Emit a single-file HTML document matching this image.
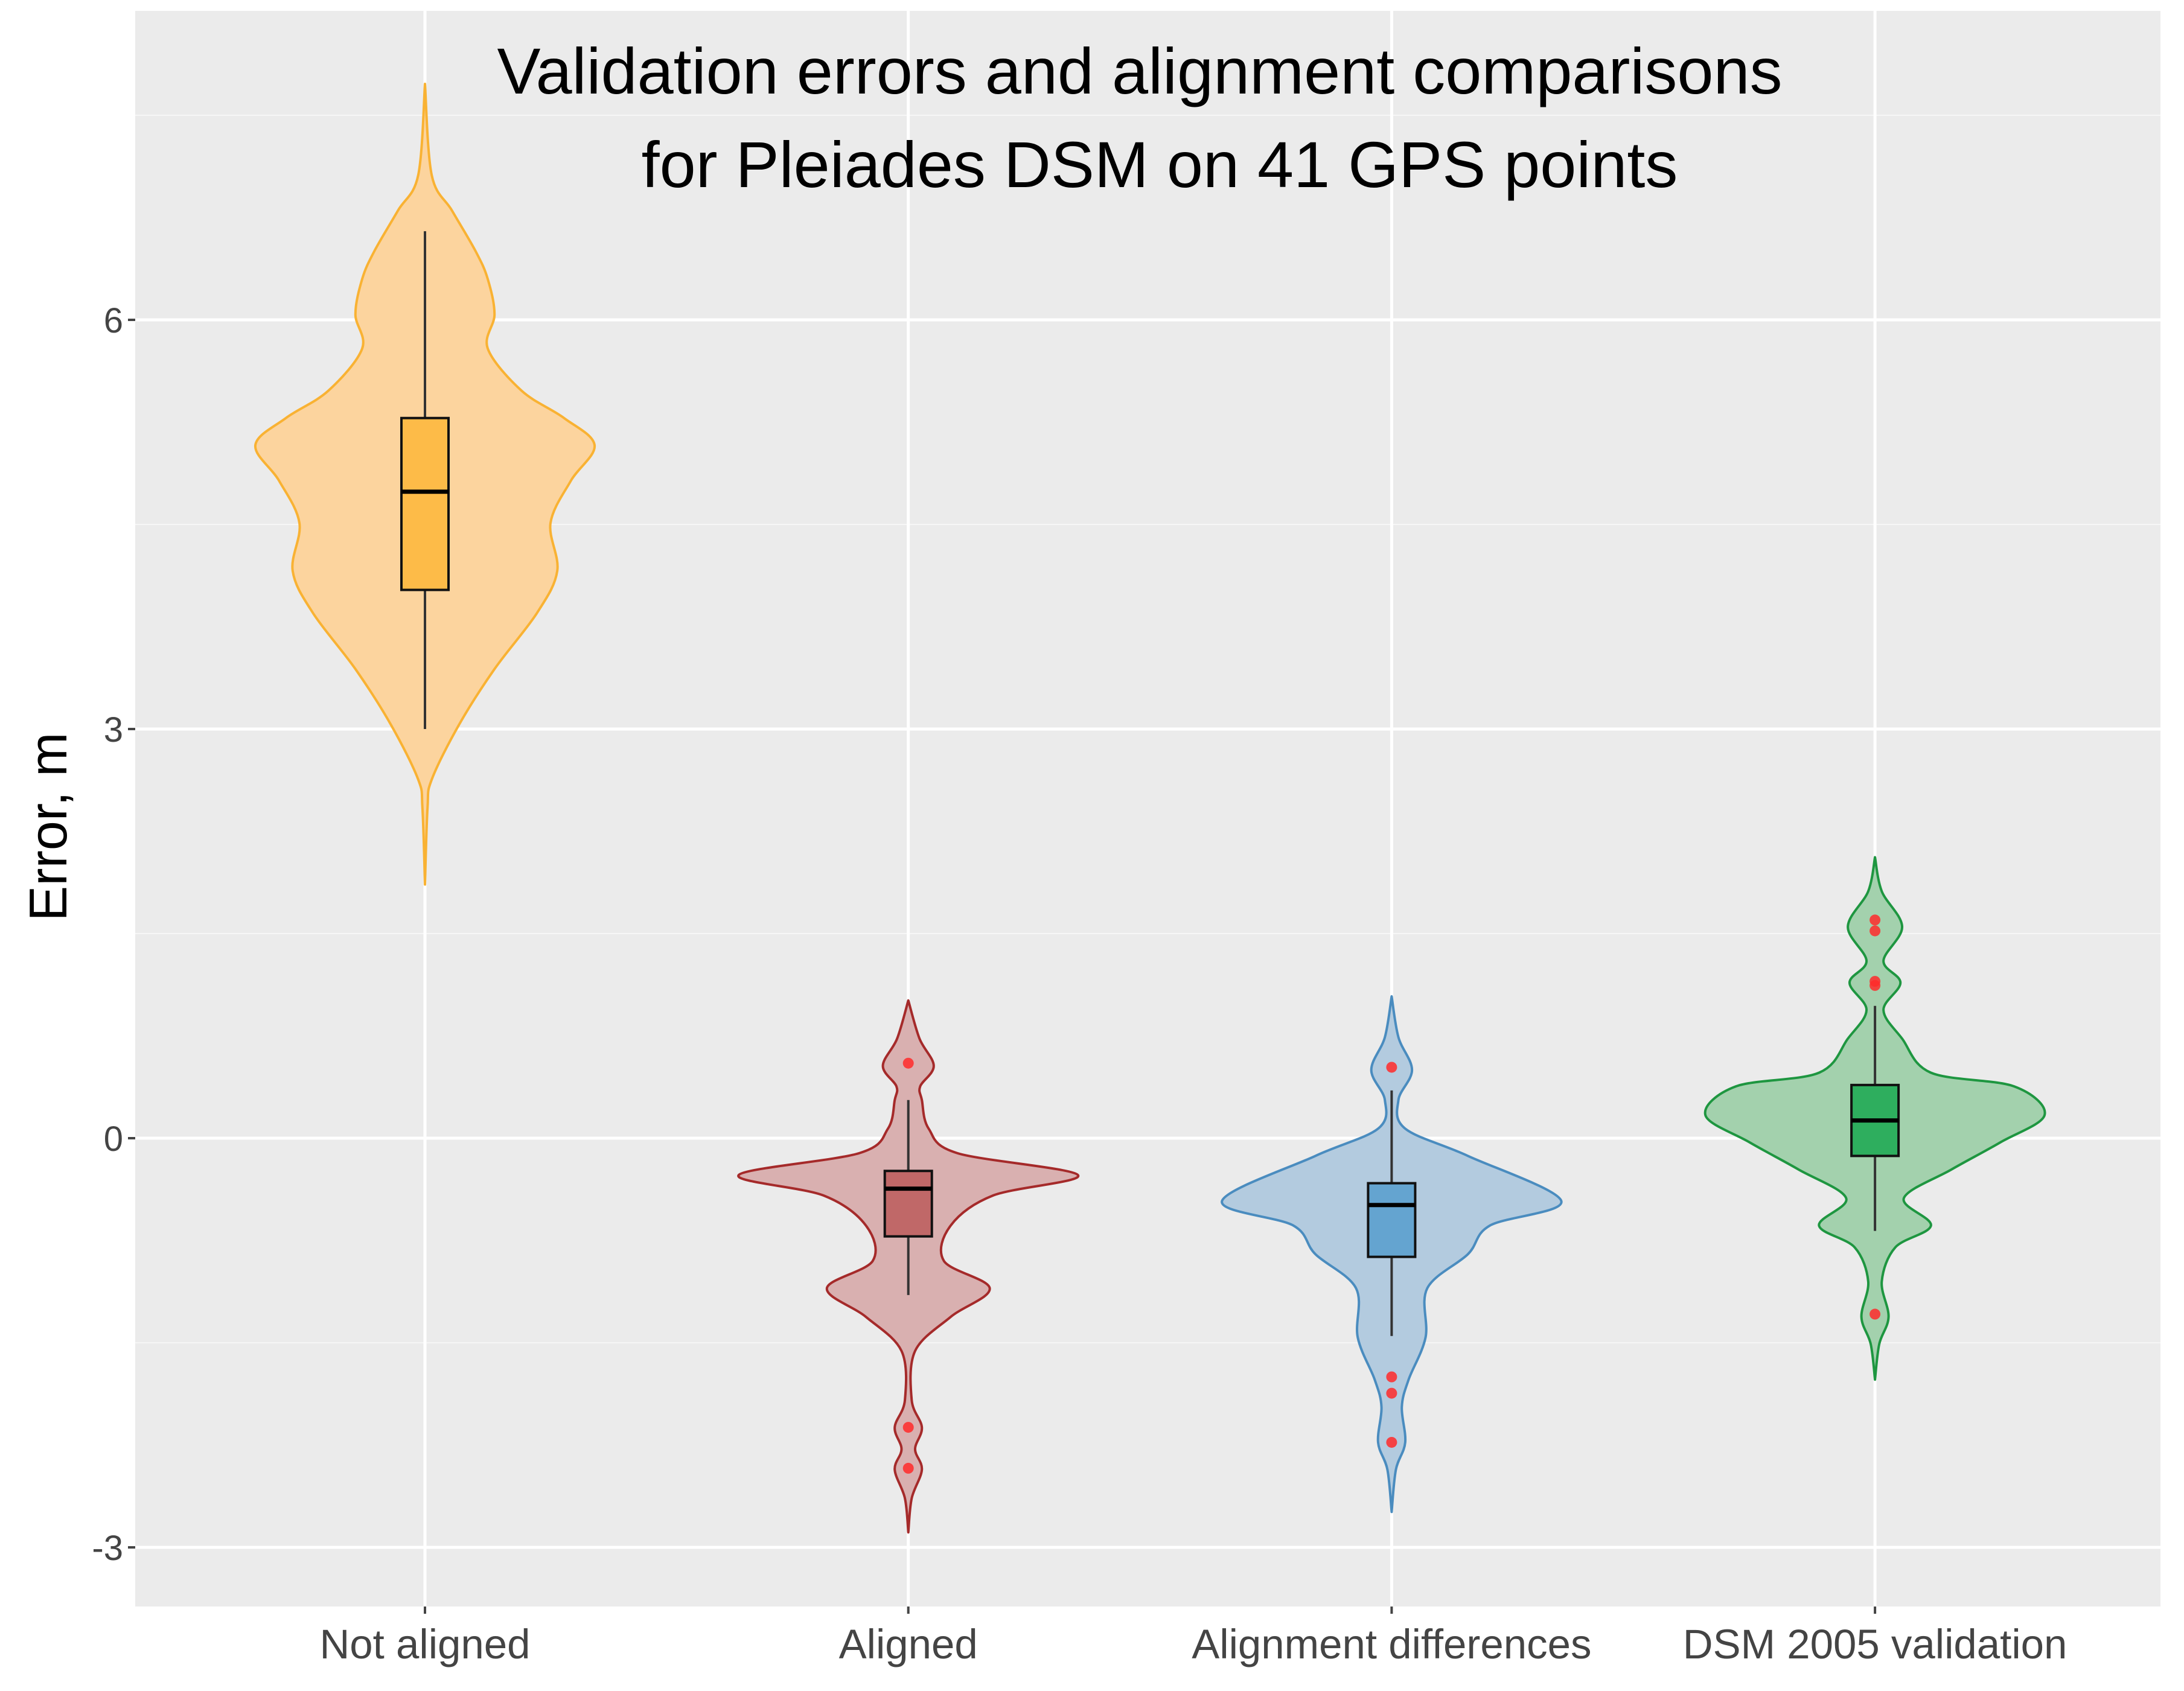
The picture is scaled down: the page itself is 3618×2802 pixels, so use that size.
<!DOCTYPE html>
<html><head><meta charset="utf-8">
<style>
html,body{margin:0;padding:0;background:#fff;}
svg{display:block;font-family:"Liberation Sans",Arial,sans-serif;}
</style></head>
<body>
<svg id="chart" width="3618" height="2802" viewBox="0 0 3618 2802"></svg>
<script>
// ---- data ----
const categories = ["Not aligned","Aligned","Alignment differences","DSM 2005 validation"];
const yTicks = [-3,0,3,6];
const yMinorTicks = [-1.5,1.5,4.5,7.5];
// violin profiles: [value, relative half-width]
const violinNotAligned = [[7.73,0],[7.06,0.04],[6.8,0.16],[6.5,0.3],[6.3,0.37],[6.04,0.41],[5.79,0.37],[5.48,0.57],[5.28,0.82],[5.08,1.0],[4.82,0.86],[4.51,0.74],[4.16,0.78],[3.85,0.66],[3.44,0.41],[3.03,0.2],[2.63,0.04],[2.42,0.015],[1.86,0]];
const violinAligned = [[1.01,0],[0.73,0.066],[0.53,0.15],[0.38,0.07],[0.28,0.08],[0.07,0.12],[-0.11,0.29],[-0.27,1.0],[-0.42,0.5],[-0.64,0.25],[-0.9,0.21],[-1.1,0.48],[-1.31,0.25],[-1.56,0.04],[-1.92,0.02],[-2.12,0.08],[-2.28,0.04],[-2.43,0.08],[-2.64,0.02],[-2.89,0]];
const violinDiff = [[1.04,0],[0.74,0.04],[0.5,0.12],[0.28,0.04],[0.07,0.08],[-0.13,0.45],[-0.46,1.0],[-0.64,0.58],[-0.85,0.45],[-1.1,0.21],[-1.46,0.2],[-1.77,0.1],[-1.97,0.06],[-2.23,0.08],[-2.43,0.025],[-2.74,0]];
const violinDSM = [[2.06,0],[1.81,0.04],[1.55,0.16],[1.3,0.05],[1.14,0.15],[0.94,0.05],[0.73,0.16],[0.48,0.33],[0.38,0.82],[0.17,1.0],[-0.03,0.74],[-0.23,0.45],[-0.44,0.17],[-0.64,0.33],[-0.8,0.12],[-1.05,0.04],[-1.31,0.08],[-1.51,0.025],[-1.77,0]];
// box stats: [whiskerLow, q1, median, q3, whiskerHigh]
const boxNotAligned = [3.0,4.02,4.74,5.28,6.65];
const boxAligned = [-1.15,-0.72,-0.37,-0.24,0.28];
const boxDiff = [-1.45,-0.87,-0.49,-0.33,0.35];
const boxDSM = [-0.68,-0.13,0.13,0.39,0.97];
const outliersNotAligned = [];
const outliersAligned = [0.55,-2.12,-2.42];
const outliersDiff = [0.52,-1.75,-1.87,-2.23];
const outliersDSM = [1.6,1.52,1.15,1.12,-1.29];

// ---- styles ----
const styles = [
 {fill:"#FCD49E",stroke:"#F9B233",box:"#FDBB48"},
 {fill:"#D9B0B0",stroke:"#A52A2A",box:"#C06868"},
 {fill:"#B3CBDF",stroke:"#4A8CBF",box:"#64A4D0"},
 {fill:"#A3D1AD",stroke:"#1E9640",box:"#2EAE5E"}
];
const violins=[violinNotAligned,violinAligned,violinDiff,violinDSM];
const boxes=[boxNotAligned,boxAligned,boxDiff,boxDSM];
const outliers=[outliersNotAligned,outliersAligned,outliersDiff,outliersDSM];

const P={l:224,r:3579,t:18,b:2662};
const y0px=1886, pxPerUnit=226;
const yScale=v=>y0px - v*pxPerUnit;
const xScale=i=>704 + i*800.7;
const maxHalf=281, boxHalf=39;
const NS="http://www.w3.org/2000/svg";
const svg=document.getElementById('chart');
function mk(tag,attrs,parent){const e=document.createElementNS(NS,tag);for(const k in attrs)e.setAttribute(k,attrs[k]);(parent||svg).appendChild(e);return e;}

let e=mk('rect',{x:P.l,y:P.t,width:P.r-P.l,height:P.b-P.t,fill:"#EBEBEB"});


yMinorTicks.forEach(v=>{
 const l=mk('line',{x1:P.l,x2:P.r,y1:yScale(v),y2:yScale(v),stroke:"#F6F6F6","stroke-width":2});
 
 
});
yTicks.forEach(v=>{
 const l=mk('line',{x1:P.l,x2:P.r,y1:yScale(v),y2:yScale(v),stroke:"#FFFFFF","stroke-width":5});
 
 
 const t=mk('line',{x1:P.l-12,x2:P.l,y1:yScale(v),y2:yScale(v),stroke:"#444","stroke-width":4});
 
 
 const tx=mk('text',{x:P.l-20,y:yScale(v)+21,"text-anchor":"end","font-size":58,fill:"#444"});
 tx.textContent=v;
 
 
});
categories.forEach((c,i)=>{
 const l=mk('line',{x1:xScale(i),x2:xScale(i),y1:P.t,y2:P.b,stroke:"#FFFFFF","stroke-width":5});
 
 
 const t=mk('line',{x1:xScale(i),x2:xScale(i),y1:P.b,y2:P.b+12,stroke:"#444","stroke-width":4});
 
 
 const tx=mk('text',{x:xScale(i),y:2748,"text-anchor":"middle","font-size":69,fill:"#444"});
 tx.textContent=c;
 
 
});

function smoothPath(pts){
 let d=`M${pts[0][0]},${pts[0][1]}`;
 for(let i=0;i<pts.length-1;i++){
  const p0=pts[i-1]||pts[i],p1=pts[i],p2=pts[i+1],p3=pts[i+2]||p2;
  const c1=[p1[0]+(p2[0]-p0[0])/6,p1[1]+(p2[1]-p0[1])/6];
  const c2=[p2[0]-(p3[0]-p1[0])/6,p2[1]-(p3[1]-p1[1])/6];
  d+=` C${c1[0]},${c1[1]} ${c2[0]},${c2[1]} ${p2[0]},${p2[1]}`;
 }
 return d;
}

violins.forEach((prof,i)=>{
 const cx=xScale(i), s=styles[i];
 const g=mk('g',{});
 
 
 const right=prof.map(p=>[cx+p[1]*maxHalf,yScale(p[0])]);
 const left=prof.slice().reverse().map(p=>[cx-p[1]*maxHalf,yScale(p[0])]);
 let d=smoothPath(right)+" L"+smoothPath(left).slice(1)+" Z";
 const v=mk('path',{d:d,fill:s.fill,stroke:s.stroke,"stroke-width":4,"stroke-linejoin":"round"},g);
 
 
 const b=boxes[i];
 const w=mk('line',{x1:cx,x2:cx,y1:yScale(b[0]),y2:yScale(b[4]),stroke:"#333","stroke-width":4},g);
 
 
 const r=mk('rect',{x:cx-boxHalf,y:yScale(b[3]),width:boxHalf*2,height:yScale(b[1])-yScale(b[3]),fill:s.box,stroke:"#111","stroke-width":4},g);
 
 
 const m=mk('line',{x1:cx-boxHalf,x2:cx+boxHalf,y1:yScale(b[2]),y2:yScale(b[2]),stroke:"#000","stroke-width":7},g);
 
 
 outliers[i].forEach(o=>{
  const c=mk('circle',{cx:cx,cy:yScale(o),r:9,fill:"#FF2A2A","fill-opacity":0.85},g);
  
  
 });
});

let t1=mk('text',{x:1888,y:155,"text-anchor":"middle","font-size":108,fill:"#000"});
t1.textContent="Validation errors and alignment comparisons";


let t2=mk('text',{x:1921,y:310,"text-anchor":"middle","font-size":108,fill:"#000"});
t2.textContent="for Pleiades DSM on 41 GPS points";


let yt=mk('text',{x:0,y:0,"text-anchor":"middle","font-size":88,fill:"#000",transform:"translate(110,1370) rotate(-90)"});
yt.textContent="Error, m";


</script>
</body></html>
